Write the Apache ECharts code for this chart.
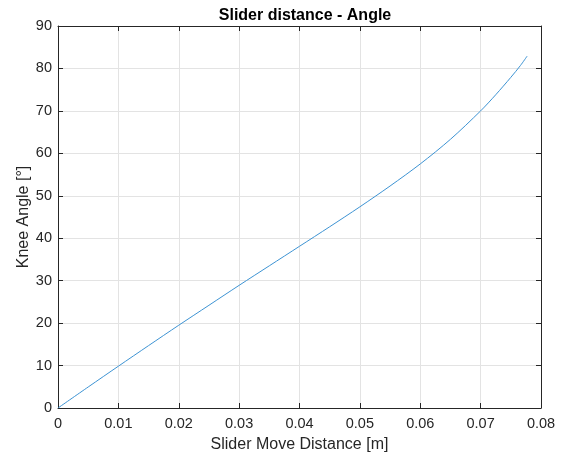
<!DOCTYPE html>
<html><head><meta charset="utf-8">
<script src="https://cdn.jsdelivr.net/npm/echarts@6/dist/echarts.min.js"></script>
<style>html,body{margin:0;padding:0;background:#fff}#c{width:566px;height:459px}</style>
</head><body><div id="c"></div>
<script>
const xValues = [0, 0.005, 0.01, 0.015, 0.02, 0.025, 0.03, 0.035, 0.04, 0.045, 0.05, 0.055, 0.06, 0.065, 0.07, 0.0725, 0.075, 0.0766, 0.0777];
const angleValues = [0, 4.95, 9.85, 14.7, 19.5, 24.2, 28.9, 33.5, 38.1, 42.7, 47.4, 52.3, 57.5, 63.3, 70.0, 73.8, 77.9, 80.7, 82.9];
const titleText = 'Slider distance - Angle';
const xName = 'Slider Move Distance [m]';
const yName = 'Knee Angle [°]';

const font = 'Liberation Sans, Arial, Helvetica, sans-serif';
const axisCol = '#262626';
const chart = echarts.init(document.getElementById('c'), null, {renderer: 'canvas'});
const tickCommon = {show: true, inside: true, length: 5, lineStyle: {color: axisCol, width: 1}};
chart.setOption({
  animation: false,
  backgroundColor: '#fff',
  title: {text: titleText, left: 300, top: 3, textAlign: 'center',
    textStyle: {fontFamily: font, fontSize: 16, fontWeight: 'bold', color: '#000'}},
  grid: {left: 58, right: 25, top: 26, bottom: 51, containLabel: false},
  xAxis: [{
    type: 'value', min: 0, max: 0.08, interval: 0.01, position: 'bottom',
    name: xName, nameLocation: 'middle', nameGap: 29, nameMoveOverlap: false,
    nameTextStyle: {fontFamily: font, fontSize: 16, color: axisCol},
    axisLine: {show: true, onZero: false, lineStyle: {color: axisCol, width: 1}},
    axisTick: tickCommon,
    axisLabel: {fontFamily: font, fontSize: 14.5, color: axisCol, margin: 8,
      formatter: v => v === 0 ? '0' : String(+v.toFixed(2))},
    splitLine: {show: true, lineStyle: {color: '#e3e3e3', width: 1}}
  }, {
    type: 'value', min: 0, max: 0.08, interval: 0.01, position: 'top',
    axisLine: {show: true, onZero: false, lineStyle: {color: axisCol, width: 1}},
    axisTick: tickCommon, axisLabel: {show: false}, splitLine: {show: false}
  }],
  yAxis: [{
    type: 'value', min: 0, max: 90, interval: 10, position: 'left',
    name: yName, nameLocation: 'middle', nameGap: 26, nameRotate: 90, nameMoveOverlap: false,
    nameTextStyle: {fontFamily: font, fontSize: 16, color: axisCol},
    axisLine: {show: true, onZero: false, lineStyle: {color: axisCol, width: 1}},
    axisTick: tickCommon,
    axisLabel: {fontFamily: font, fontSize: 14.5, color: axisCol, margin: 6},
    splitLine: {show: true, lineStyle: {color: '#e3e3e3', width: 1}}
  }, {
    type: 'value', min: 0, max: 90, interval: 10, position: 'right',
    axisLine: {show: true, onZero: false, lineStyle: {color: axisCol, width: 1}},
    axisTick: tickCommon, axisLabel: {show: false}, splitLine: {show: false}
  }],
  series: [{
    type: 'line', xAxisIndex: 0, yAxisIndex: 0, smooth: 0.3, symbol: 'none',
    lineStyle: {color: '#3d93d3', width: 1},
    data: xValues.map((x, i) => [x, angleValues[i]])
  }]
});
</script></body></html>
